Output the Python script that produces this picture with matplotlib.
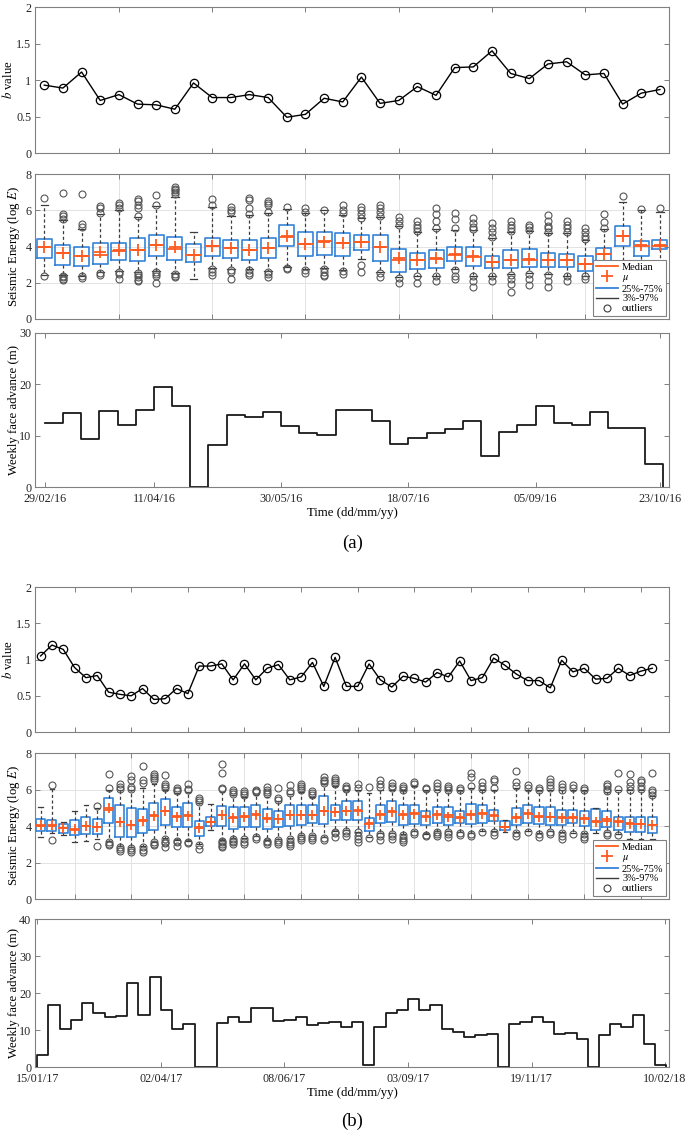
import numpy as np
import pandas as pd
import matplotlib
matplotlib.use("Agg")
import matplotlib.pyplot as plt
from matplotlib.lines import Line2D

plt.rcParams["font.family"] = ["Liberation Serif", "DejaVu Serif"]
plt.rcParams["mathtext.fontset"] = "stix"
plt.rcParams["font.size"] = 9

BLUE = "#3484d9"
RED = "#ff5a1f"
DARK = "#3c3c3c"
FRAME = "#808080"

# ---------------- (a) ----------------
b_a = [0.93, 0.89, 1.11, 0.72, 0.80, 0.67, 0.66, 0.60, 0.96, 0.76, 0.76, 0.80,
       0.76, 0.49, 0.53, 0.75, 0.70, 1.04, 0.68, 0.72, 0.91, 0.79, 1.17, 1.18,
       1.40, 1.09, 1.02, 1.22, 1.25, 1.07, 1.09, 0.67, 0.82, 0.87]

q1_a = [3.36, 2.98, 2.90, 3.05, 3.24, 3.22, 3.47, 3.27, 3.14, 3.47, 3.35, 3.27,
        3.35, 4.03, 3.46, 3.55, 3.49, 3.79, 3.18, 2.61, 2.78, 2.79, 3.18, 2.94,
        2.79, 2.83, 2.85, 2.85, 2.87, 2.67, 2.94, 4.04, 3.46, 3.86]
q3_a = [4.43, 4.10, 3.99, 4.19, 4.20, 4.48, 4.61, 4.52, 4.12, 4.45, 4.37, 4.34,
        4.45, 5.20, 4.80, 4.80, 4.72, 4.63, 4.63, 3.86, 3.64, 3.79, 3.97, 3.97,
        3.46, 3.80, 3.84, 3.66, 3.58, 3.47, 3.90, 5.15, 4.30, 4.36]
med_a = [3.95, 3.64, 3.45, 3.55, 3.73, 3.78, 4.06, 3.88, 3.55, 4.04, 3.92, 3.79,
         3.92, 4.52, 4.15, 4.32, 4.17, 4.23, 3.97, 3.27, 3.24, 3.31, 3.55, 3.42,
         3.14, 3.24, 3.27, 3.24, 3.24, 3.01, 3.57, 4.60, 4.04, 4.04]
mean_a = [3.95, 3.64, 3.45, 3.70, 3.80, 3.82, 4.10, 4.00, 3.52, 4.02, 3.92, 3.83,
          3.92, 4.57, 4.15, 4.25, 4.17, 4.23, 3.97, 3.35, 3.28, 3.35, 3.60, 3.45,
          3.14, 3.26, 3.30, 3.26, 3.26, 3.05, 3.60, 4.60, 4.06, 4.08]
wlo_a = [2.45, 2.45, 2.40, 2.60, 2.65, 2.60, 2.65, 2.55, 2.20, 2.80, 2.75, 2.75,
         2.65, 2.85, 2.75, 2.80, 2.70, 3.30, 2.60, 2.30, 2.40, 2.40, 2.75, 2.40,
         2.40, 2.50, 2.55, 2.50, 2.40, 2.40, 2.30, 2.60, 2.60, 3.00]
whi_a = [6.30, 5.45, 4.95, 5.80, 6.00, 5.65, 6.25, 6.75, 4.80, 6.20, 5.70, 5.75,
         5.85, 6.05, 5.85, 6.00, 5.75, 5.55, 5.65, 5.15, 4.80, 4.95, 4.90, 4.90,
         4.45, 4.80, 4.85, 4.75, 4.75, 4.35, 4.95, 6.45, 6.00, 5.90]
out_a = [[6.7, 2.35], [6.95, 5.8, 5.7, 5.5, 2.4, 2.3, 2.2, 2.15],
         [6.9, 5.25, 5.1, 2.35, 2.25], [6.25, 6.15, 5.85, 2.55, 2.45],
         [6.4, 6.3, 6.1, 2.6, 2.5, 2.2], [6.6, 6.5, 6.3, 6.1, 5.7, 2.55, 2.45, 2.3, 2.15, 2.1],
         [6.85, 6.3, 2.6, 2.5, 2.4, 2.0], [7.3, 7.2, 7.1, 7.0, 6.9, 2.5, 2.4, 2.3],
         [], [6.6, 6.3, 2.75, 2.6, 2.45], [6.2, 6.0, 5.9, 2.7, 2.6, 2.2],
         [6.65, 6.55, 6.1, 5.8, 2.7, 2.55, 2.45], [6.5, 6.4, 6.3, 5.9, 2.6, 2.5, 2.3],
         [6.2, 2.8, 2.75], [6.1, 5.9, 2.7, 2.55], [6.0, 2.75, 2.6, 2.45, 2.35],
         [6.3, 6.0, 5.85, 2.65, 2.5], [6.2, 6.0, 5.8, 5.6, 3.0, 2.6],
         [6.3, 6.1, 5.9, 5.7, 2.55, 2.3], [5.65, 5.4, 5.2, 2.25, 2.0],
         [5.4, 5.2, 5.0, 4.85, 2.35, 2.0], [6.1, 5.8, 5.4, 5.0, 2.35, 2.1],
         [5.85, 5.5, 5.0, 2.7, 2.4, 2.2], [5.55, 5.3, 5.1, 4.95, 2.35, 2.1, 1.75],
         [5.3, 5.0, 4.8, 4.5, 2.35, 2.1], [5.4, 5.2, 5.0, 4.85, 2.45, 2.2, 1.95, 1.5],
         [5.2, 5.05, 4.9, 2.5, 2.2, 1.9], [5.75, 5.4, 5.15, 5.0, 4.8, 2.45, 2.1, 1.75],
         [5.4, 5.2, 5.0, 4.8, 2.35, 2.1], [5.0, 4.8, 4.6, 4.4, 2.35, 2.2],
         [5.8, 5.35, 5.0, 2.0], [6.8], [6.05], [6.15]]

adv_a = [12.5, 14.4, 9.3, 14.8, 12.1, 14.9, 19.4, 15.8, 0.0, 8.1, 14.1, 13.7,
         14.7, 11.9, 10.5, 10.2, 15.0, 15.0, 12.8, 8.3, 9.6, 10.6, 11.3, 12.9,
         6.0, 10.8, 12.1, 15.7, 12.4, 12.1, 14.7, 11.5, 11.4, 4.4, 0.0]
weeks_a = pd.date_range("2016-02-29", periods=len(adv_a), freq="7D")
tick_dates_a = ["2016-02-29", "2016-04-11", "2016-05-30", "2016-07-18", "2016-09-05", "2016-10-23"]
tick_labels_a = ["29/02/16", "11/04/16", "30/05/16", "18/07/16", "05/09/16", "23/10/16"]

# ---------------- (b) ----------------
b_b = [1.05, 1.20, 1.14, 0.89, 0.75, 0.78, 0.55, 0.52, 0.50, 0.60, 0.45, 0.46,
       0.60, 0.53, 0.91, 0.91, 0.94, 0.72, 0.94, 0.72, 0.88, 0.93, 0.72, 0.76,
       0.96, 0.63, 1.03, 0.63, 0.63, 0.94, 0.72, 0.62, 0.77, 0.74, 0.69, 0.82,
       0.76, 0.98, 0.71, 0.75, 1.02, 0.92, 0.80, 0.71, 0.71, 0.61, 0.99, 0.83,
       0.88, 0.73, 0.74, 0.88, 0.78, 0.84, 0.88]

q1_b = [3.75, 3.75, 3.64, 3.50, 3.55, 3.55, 4.16, 3.39, 3.39, 3.64, 3.79, 4.07,
        3.94, 3.94, 3.48, 4.01, 4.01, 3.86, 3.97, 3.94, 3.86, 3.94, 4.01, 4.08,
        4.16, 4.10, 4.34, 4.34, 4.34, 3.72, 4.16, 4.21, 4.07, 4.10, 4.07, 4.19,
        4.07, 4.16, 4.10, 4.19, 4.25, 3.79, 4.03, 4.16, 4.10, 4.05, 4.07, 4.16,
        4.01, 3.79, 3.94, 3.79, 3.70, 3.70, 3.64]
q3_b = [4.40, 4.34, 4.12, 4.34, 4.49, 4.41, 5.55, 5.15, 4.98, 4.93, 5.29, 5.48,
        5.07, 5.26, 4.29, 4.52, 5.11, 5.02, 5.04, 5.16, 4.95, 4.84, 5.16, 5.13,
        5.13, 5.62, 5.15, 5.35, 5.35, 4.45, 5.13, 5.35, 5.13, 5.18, 4.85, 5.07,
        5.07, 4.85, 5.20, 5.13, 4.89, 4.29, 4.98, 5.13, 5.07, 5.07, 4.89, 4.89,
        4.84, 4.93, 4.80, 4.52, 4.52, 4.49, 4.49]
med_b = [4.00, 4.00, 3.88, 3.79, 4.00, 3.94, 4.89, 4.23, 4.07, 4.34, 4.62, 4.84,
         4.56, 4.62, 3.94, 4.23, 4.60, 4.52, 4.56, 4.67, 4.41, 4.41, 4.60, 4.62,
         4.62, 4.84, 4.78, 4.85, 4.89, 4.19, 4.67, 4.80, 4.67, 4.71, 4.56, 4.67,
         4.58, 4.49, 4.67, 4.74, 4.62, 3.97, 4.52, 4.71, 4.56, 4.52, 4.49, 4.49,
         4.43, 4.25, 4.38, 4.25, 4.16, 4.12, 4.07]
mean_b = [4.05, 4.05, 3.88, 3.82, 4.00, 3.94, 5.00, 4.20, 4.05, 4.30, 4.55, 4.80,
          4.50, 4.55, 3.92, 4.23, 4.60, 4.45, 4.50, 4.60, 4.45, 4.41, 4.60, 4.62,
          4.60, 4.80, 4.75, 4.82, 4.85, 4.10, 4.60, 4.75, 4.60, 4.65, 4.52, 4.62,
          4.52, 4.45, 4.60, 4.65, 4.55, 3.95, 4.45, 4.65, 4.50, 4.48, 4.45, 4.45,
          4.38, 4.20, 4.30, 4.20, 4.10, 4.10, 4.05]
wlo_b = [3.42, 3.60, 3.50, 3.15, 3.20, 3.30, 3.20, 2.90, 2.85, 2.90, 3.15, 3.35,
         3.25, 3.20, 3.00, 3.80, 3.25, 3.35, 3.35, 3.45, 3.25, 3.30, 3.35, 3.50,
         3.50, 3.40, 3.75, 3.80, 3.70, 3.40, 3.60, 3.60, 3.55, 3.75, 3.55, 3.75,
         3.75, 3.65, 3.60, 3.75, 3.75, 3.70, 3.65, 3.75, 3.60, 3.75, 3.65, 3.60,
         3.60, 3.60, 3.65, 3.55, 3.30, 3.30, 3.30]
whi_b = [5.07, 6.05, 4.20, 4.85, 5.15, 5.00, 6.00, 6.00, 5.95, 6.10, 6.30, 6.00,
         5.80, 5.85, 5.25, 5.20, 5.85, 5.70, 5.60, 5.70, 5.60, 5.35, 5.75, 5.85,
         5.60, 6.30, 6.20, 6.00, 6.00, 5.80, 6.00, 6.00, 5.95, 6.20, 5.95, 6.00,
         5.95, 5.95, 6.10, 5.95, 6.00, 4.35, 6.10, 6.00, 5.95, 6.00, 5.95, 6.00,
         5.95, 5.00, 5.85, 5.95, 5.95, 6.00, 5.65]
out_b = [[], [6.25, 3.25], [], [], [], [5.1, 2.9],
         [6.85, 6.1, 3.1, 3.0, 2.95], [6.3, 6.15, 6.05, 2.85, 2.75, 2.65],
         [6.75, 6.5, 6.15, 6.05, 2.8, 2.7, 2.6], [7.3, 6.55, 6.35, 2.85, 2.7, 2.6],
         [6.85, 6.75, 6.65, 6.55, 3.1, 3.0, 2.95], [6.8, 6.3, 6.2, 6.1, 3.3, 3.15, 3.05, 2.85],
         [6.1, 6.0, 5.9, 3.2, 3.1, 2.9], [6.3, 6.05, 5.95, 3.15, 3.05],
         [5.55, 5.4, 5.3, 2.95, 2.75], [],
         [7.4, 6.9, 6.1, 6.05, 3.2, 3.1, 3.0, 2.9, 2.85], [5.95, 5.85, 5.75, 3.3, 3.2, 3.1, 3.0],
         [5.9, 5.8, 5.7, 3.3, 3.15, 3.0], [6.0, 5.9, 5.85, 3.4, 3.3],
         [6.15, 6.0, 5.85, 5.75, 3.2, 3.1, 3.0], [6.1, 5.55, 5.45, 3.25, 3.1, 3.0],
         [6.25, 5.9, 5.8, 3.3, 3.1, 3.0, 2.9], [6.3, 6.2, 6.1, 6.0, 3.45, 3.35, 3.25],
         [5.9, 5.8, 5.7, 3.45, 3.35, 3.25], [6.7, 6.55, 6.45, 6.35, 3.35, 3.25],
         [6.65, 6.5, 6.4, 6.3, 3.7, 3.6, 3.4], [6.2, 6.1, 6.05, 3.75, 3.6, 3.45],
         [6.3, 6.1, 3.65, 3.45, 3.3, 3.1], [6.15, 3.33],
         [6.5, 6.3, 6.15, 3.55, 3.45, 3.25], [6.35, 6.2, 6.1, 3.55, 3.45, 3.3],
         [6.2, 6.1, 6.0, 3.5, 3.35, 3.25, 3.1], [6.4, 6.3, 3.7, 3.55],
         [6.1, 6.05, 3.5, 3.45], [6.35, 6.2, 6.05, 3.7, 3.55, 3.45],
         [6.2, 6.1, 6.0, 3.7, 3.55, 3.4], [6.1, 6.0, 3.6, 3.5],
         [6.9, 6.7, 6.2, 3.55, 3.45], [6.4, 6.2, 6.05, 3.7],
         [6.6, 6.45, 6.1, 3.7, 3.5], [],
         [7.0, 6.4, 6.2, 3.6, 3.45], [6.25, 6.1, 3.7],
         [6.1, 6.0, 3.55, 3.4], [6.6, 6.4, 6.25, 6.1, 3.7, 3.55],
         [6.3, 6.15, 6.0, 3.6, 3.45, 3.3], [6.25, 6.1, 3.55],
         [6.1, 6.0, 3.55, 3.4, 3.3], [],
         [6.3, 6.2, 6.05, 5.9, 3.6, 3.5], [6.9, 6.05, 3.5],
         [6.85, 6.4, 6.2, 6.0], [6.55, 6.4, 6.2, 6.05], [6.9, 6.0, 5.85, 5.7]]

adv_b = [0.0, 3.2, 16.8, 10.4, 12.6, 17.4, 14.5, 13.6, 13.9, 22.7, 14.0, 24.4,
         15.3, 10.3, 11.6, 0.0, 0.0, 11.8, 13.6, 12.3, 15.9, 16.0, 12.5, 12.7,
         13.6, 11.3, 12.0, 12.3, 10.9, 12.3, 0.6, 10.7, 14.5, 15.3, 18.4, 15.3,
         16.8, 10.2, 9.6, 8.2, 8.6, 8.8, 0.0, 11.5, 12.3, 13.4, 12.3, 9.0,
         9.2, 7.5, 0.0, 8.7, 11.7, 10.8, 14.1, 6.2, 0.5, 0.0]
weeks_b = pd.date_range("2017-01-08", periods=len(adv_b), freq="7D")
tick_dates_b = ["2017-01-15", "2017-04-02", "2017-06-18", "2017-09-03", "2017-11-19", "2018-02-10"]
tick_labels_b = ["15/01/17", "02/04/17", "08/06/17", "03/09/17", "19/11/17", "10/02/18"]


def style_axes(ax):
    for s in ax.spines.values():
        s.set_color(FRAME)
        s.set_linewidth(0.8)
    ax.tick_params(direction="in", top=True, right=True, length=3.5,
                   width=0.7, color=FRAME, labelcolor="#262626", labelsize=8.7, pad=2.5)


def bvalue_panel(ax, b, xlim, xticks):
    x = np.arange(xlim[0] + 0.5, xlim[0] + 0.5 + len(b))
    ax.plot(x, b, color="black", lw=1.0, marker="o", ms=6, mfc="none", mew=0.9)
    ax.set_xlim(*xlim)
    ax.set_ylim(0, 2)
    ax.set_yticks([0, 0.5, 1, 1.5, 2])
    ax.set_yticklabels(["0", "0.5", "1", "1.5", "2"])
    ax.set_xticks(xticks)
    ax.set_xticklabels([])
    ax.set_ylabel(r"$b$ value", fontsize=9.2)
    ax.yaxis.set_label_coords(-0.031, 0.5)
    style_axes(ax)


def energy_panel(ax, first, q1, q3, med, mean, wlo, whi, out, xlim, xticks, cross):
    pos = np.arange(first, first + len(q1))
    stats = []
    for i in range(len(q1)):
        stats.append(dict(q1=q1[i], q3=q3[i], med=med[i], mean=mean[i],
                          whislo=wlo[i], whishi=whi[i], fliers=out[i]))
    ax.bxp(stats, positions=pos, widths=0.8, showmeans=True, manage_ticks=False,
           boxprops=dict(color=BLUE, lw=1.2),
           medianprops=dict(color=RED, lw=1.3),
           meanprops=dict(marker="+", markeredgecolor=RED, markersize=cross, mew=1.3),
           whiskerprops=dict(color=DARK, lw=0.9, ls=(0, (2.5, 2))),
           capprops=dict(color=DARK, lw=0.9),
           flierprops=dict(marker="o", mfc="none", mec="#555555", ms=5, mew=0.8))
    ax.set_xlim(*xlim)
    ax.set_ylim(0, 8)
    ax.set_yticks([0, 2, 4, 6, 8])
    ax.set_xticks(xticks)
    ax.set_xticklabels([])
    ax.grid(True, color="#e3e3e3", lw=0.7)
    ax.set_axisbelow(True)
    ax.set_ylabel(r"Seismic Energy (log $E$)", fontsize=9.2)
    ax.yaxis.set_label_coords(-0.021, 0.5)
    style_axes(ax)
    handles = [Line2D([], [], color=RED, lw=1.3),
               Line2D([], [], ls="none", marker="+", color=RED, ms=9, mew=1.3),
               Line2D([], [], color=BLUE, lw=1.3),
               Line2D([], [], color=DARK, lw=1.0),
               Line2D([], [], ls="none", marker="o", mfc="none", mec=DARK, ms=5, mew=0.8)]
    labels = ["Median", r"$\mu$", "25%-75%", "3%-97%", "outliers"]
    leg = ax.legend(handles, labels, loc="lower right", fontsize=7.5, frameon=True,
                    fancybox=False, edgecolor=FRAME, framealpha=1, borderpad=0.25,
                    labelspacing=0.05, handlelength=2.1, handletextpad=0.4,
                    borderaxespad=0.3)
    leg.get_frame().set_linewidth(0.8)


def advance_panel(ax, weeks, adv, xlim, ticks, labels, ymax):
    ax.step(weeks, adv, where="post", color="#1a1a1a", lw=1.3)
    ax.set_xlim(pd.Timestamp(xlim[0]), pd.Timestamp(xlim[1]))
    ax.set_ylim(0, ymax)
    ax.set_yticks(np.arange(0, ymax + 1, 10))
    ax.set_xticks(pd.to_datetime(ticks))
    ax.set_xticklabels(labels)
    ax.set_xlabel("Time (dd/mm/yy)", fontsize=9.2, labelpad=1.0)
    ax.set_ylabel("Weekly face advance (m)", fontsize=9.2)
    ax.yaxis.set_label_coords(-0.024, 0.5)
    style_axes(ax)
    ax.tick_params(axis="x", pad=4.5)


fig = plt.figure(figsize=(6.85, 11.36), dpi=100)
L, W = 0.051, 0.926

ax1 = fig.add_axes([L, 0.8653, W, 0.1285])
ax2 = fig.add_axes([L, 0.7192, W, 0.1276])
ax3 = fig.add_axes([L, 0.5713, W, 0.1356])
ax4 = fig.add_axes([L, 0.3556, W, 0.1276])
ax5 = fig.add_axes([L, 0.2086, W, 0.1285])
ax6 = fig.add_axes([L, 0.0607, W, 0.1303])

bvalue_panel(ax1, b_a, (0.5, 34.5), [5, 10, 15, 20, 25, 30])
energy_panel(ax2, 1, q1_a, q3_a, med_a, mean_a, wlo_a, whi_a, out_a,
             (0.5, 34.5), [5, 10, 15, 20, 25, 30], 9)
advance_panel(ax3, weeks_a, adv_a, ("2016-02-25 04:00", "2016-10-26 12:00"),
              tick_dates_a, tick_labels_a, 30)

bvalue_panel(ax4, b_b, (1.5, 57.5), list(range(5, 56, 5)))
energy_panel(ax5, 2, q1_b, q3_b, med_b, mean_b, wlo_b, whi_b, out_b,
             (1.5, 57.5), list(range(5, 56, 5)), 7.5)
advance_panel(ax6, weeks_b, adv_b, ("2017-01-13 14:00", "2018-02-12 18:00"),
              tick_dates_b, tick_labels_b, 40)

fig.text(0.514, 0.522, "(a)", ha="center", va="center", fontsize=13.5)
fig.text(0.514, 0.013, "(b)", ha="center", va="center", fontsize=13.5)

fig.savefig("out.png", dpi=100)
